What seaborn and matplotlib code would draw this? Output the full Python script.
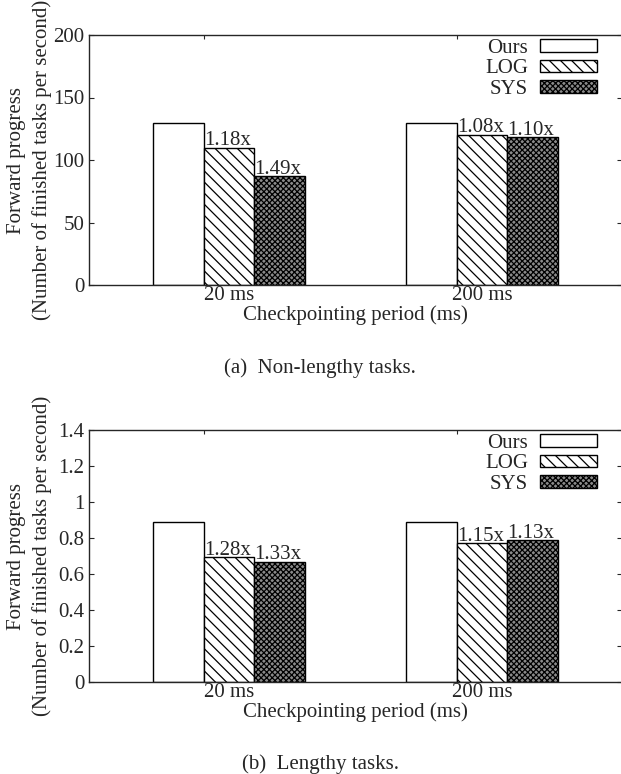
import numpy as np
import pandas as pd
import matplotlib
matplotlib.use('Agg')
import matplotlib.pyplot as plt
import seaborn as sns

# data
periods = ['20 ms', '200 ms']
methods = ['Ours', 'LOG', 'SYS']

short_ours = [130, 130]
short_log = [110, 120.4]
short_sys = [87.3, 118.2]
short_speedup_log = ['1.18x', '1.08x']
short_speedup_sys = ['1.49x', '1.10x']

long_ours = [0.89, 0.89]
long_log = [0.695, 0.774]
long_sys = [0.669, 0.788]
long_speedup_log = ['1.28x', '1.15x']
long_speedup_sys = ['1.33x', '1.13x']

hatches = ['', '\\\\\\', 'xxxxxx']
faces = ['white', 'white', '#8a8a8a']

sns.set_style('ticks')
plt.rcParams['font.family'] = ['Liberation Serif', 'DejaVu Serif']
plt.rcParams['font.size'] = 15
plt.rcParams['hatch.linewidth'] = 0.9
plt.rcParams['axes.linewidth'] = 1.0

W, H = 621, 774
fig = plt.figure(figsize=(W / 100, H / 100), dpi=100)


def make_df(ours, log, sys_):
    rows = []
    for i, p in enumerate(periods):
        rows.append((p, 'Ours', ours[i]))
        rows.append((p, 'LOG', log[i]))
        rows.append((p, 'SYS', sys_[i]))
    return pd.DataFrame(rows, columns=['period', 'method', 'value'])


def draw(ax, df, ymax, yticks, ytick_labels, sp_log, sp_sys, caption, cap_y):
    sns.barplot(data=df, x='period', y='value', hue='method', hue_order=methods,
                order=periods, palette=faces, saturation=1, width=0.6,
                edgecolor='black', linewidth=1.0, legend=False, ax=ax)
    for cont, h in zip(ax.containers, hatches):
        for bar in cont:
            bar.set_hatch(h)
    # speedup labels on LOG and SYS bars
    for cont, labs in zip(ax.containers[1:], [sp_log, sp_sys]):
        for bar, lab in zip(cont, labs):
            ax.annotate(lab, (bar.get_x(), bar.get_height()), xytext=(0, 1.5),
                        textcoords='offset points', ha='left', va='baseline')
    ax.set_xlim(-0.554, 1.553)
    ax.set_ylim(0, ymax)
    ax.set_yticks(yticks)
    ax.set_yticklabels(ytick_labels)
    ax.tick_params(axis='y', which='major', direction='in', left=True, right=True,
                   length=3.5, width=0.8, pad=3.5)
    ax.tick_params(axis='x', which='major', length=0, pad=1)
    ax.set_xticks([-0.1, 0.9], minor=True)
    ax.tick_params(axis='x', which='minor', top=True, bottom=False, direction='in',
                   length=3, width=0.8)
    ax.set_xlabel('Checkpointing period (ms)')
    ax.xaxis.set_label_coords(0.5, -0.082)
    ax.set_ylabel('')
    ax.text(-0.111, 0.5, 'Forward progress\n(Number of finished tasks per second)',
            transform=ax.transAxes, rotation=90, ha='center', va='center',
            linespacing=1.4)
    handles = [c[0] for c in ax.containers[:3]]
    ax.legend(handles, methods, loc='upper right', bbox_to_anchor=(0.953, 0.985),
              frameon=False, markerfirst=False, handlelength=2.75, handleheight=0.55,
              labelspacing=0.08, handletextpad=0.55, borderaxespad=0, borderpad=0)
    fig.text(320 / W, 1 - cap_y / H, caption, ha='center', va='center')


ax1 = fig.add_axes([89 / W, 1 - 285 / H, 533 / W, 250 / H])
draw(ax1, make_df(short_ours, short_log, short_sys), 200,
     [0, 50, 100, 150, 200], ['0', '50', '100', '150', '200'],
     short_speedup_log, short_speedup_sys, '(a)  Non-lengthy tasks.', 368)

ax2 = fig.add_axes([89 / W, 1 - 682 / H, 533 / W, 252 / H])
draw(ax2, make_df(long_ours, long_log, long_sys), 1.4,
     [0, 0.2, 0.4, 0.6, 0.8, 1.0, 1.2, 1.4], ['0', '0.2', '0.4', '0.6', '0.8', '1', '1.2', '1.4'],
     long_speedup_log, long_speedup_sys, '(b)  Lengthy tasks.', 764)

fig.savefig('out.png', dpi=100)
